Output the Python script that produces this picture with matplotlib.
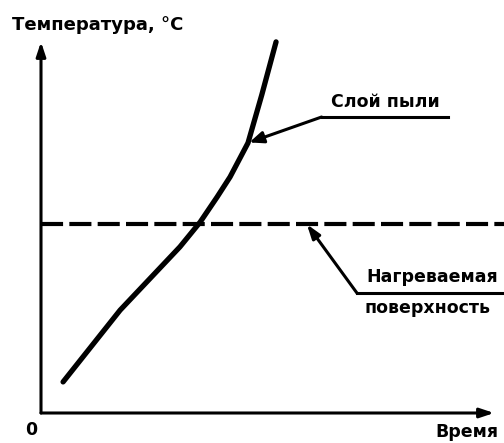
import matplotlib
matplotlib.use("Agg")
import matplotlib.pyplot as plt

# curve: dust layer temperature vs time (arbitrary units)
time = [0.48, 1.72, 3.02, 3.46, 3.83, 4.11, 4.5, 4.8, 5.11]
temp = [0.84, 2.78, 4.49, 5.16, 5.84, 6.38, 7.3, 8.6, 10.03]
surface_temp = 5.1

y_label = "Температура, °C"
x_label = "Время"
dust_label = "Слой пыли"
surface_top = "Нагреваемая"
surface_bottom = "поверхность"

plt.rcParams["font.family"] = ["DejaVu Sans"]

fig = plt.figure(figsize=(5.04, 4.43), dpi=100)
ax = fig.add_axes([0, 0, 1, 1])
ax.set_xlim(-41 / 46, 463 / 46)
ax.set_ylim(-30 / 37, 413 / 37)
ax.axis("off")

arrow = dict(arrowstyle="-|>,head_length=0.6,head_width=0.2",
             lw=2.2, color="black", mutation_scale=14, shrinkA=0, shrinkB=0)

# axes with arrows
ax.annotate("", xy=(0, 10.03), xytext=(0, 0), arrowprops=arrow)
ax.annotate("", xy=(9.85, 0), xytext=(0, 0), arrowprops=arrow)

# heated surface temperature
ax.plot([0, 10.1], [surface_temp, surface_temp], color="black", lw=3,
        dashes=(5.3, 1.5), solid_capstyle="butt")

# dust layer curve
ax.plot(time, temp, color="black", lw=3.8, solid_capstyle="round",
        solid_joinstyle="round")

# leader for dust layer
ax.plot([6.1, 8.85], [8.0, 8.0], color="black", lw=2.2)
ax.annotate("", xy=(time[6], temp[6]), xytext=(6.1, 8.0),
            arrowprops=dict(arrow, arrowstyle="-|>,head_length=0.6,head_width=0.25",
                            shrinkB=1))
ax.text(7.48, 8.15, dust_label, ha="center", va="bottom",
        fontsize=12.5, fontweight="bold")

# leader for heated surface
ax.plot([6.87, 10.1], [3.24, 3.24], color="black", lw=2.2)
ax.annotate("", xy=(5.78, surface_temp), xytext=(6.87, 3.24), arrowprops=arrow)
ax.text(8.5, 3.68, surface_top, ha="center", va="center",
        fontsize=12.5, fontweight="bold")
ax.text(8.41, 2.84, surface_bottom, ha="center", va="center",
        fontsize=12.5, fontweight="bold")

# labels
ax.text(-0.63, 10.49, y_label, ha="left", va="center",
        fontsize=13, fontweight="bold")
ax.text(9.26, -0.51, x_label, ha="center", va="center",
        fontsize=12.5, fontweight="bold")
ax.text(-0.22, -0.46, "0", ha="center", va="center",
        fontsize=12.5, fontweight="bold")

fig.savefig("out.png", dpi=100)
